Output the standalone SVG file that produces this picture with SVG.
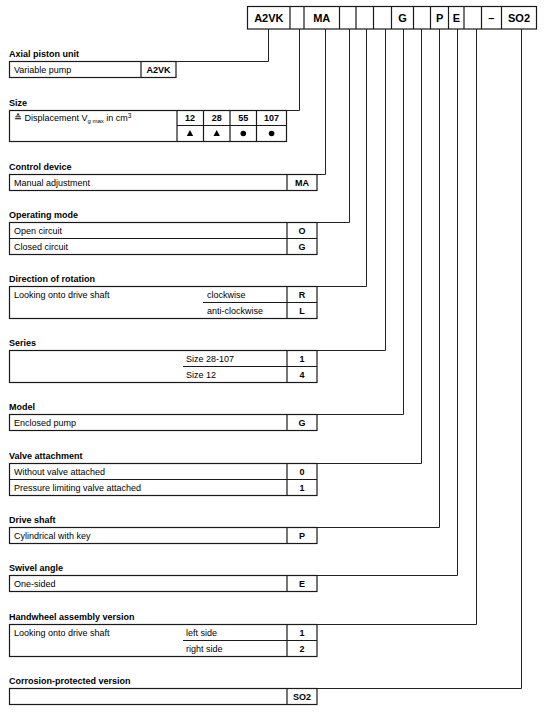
<svg xmlns="http://www.w3.org/2000/svg" width="546" height="712" viewBox="0 0 546 712">
<style>
text{font-family:"Liberation Sans",Arial,"DejaVu Sans",sans-serif;fill:#000}
.h{font-size:9px;font-weight:bold}
.t{font-size:9px}
.c{font-size:9px;font-weight:bold;text-anchor:middle}
.hd{font-size:11px;font-weight:bold;text-anchor:middle}
.box{fill:#fff;stroke:#1a1a1a;stroke-width:1.2}
.ln{fill:none;stroke:#1a1a1a;stroke-width:1.2}
.con{fill:none;stroke:#222;stroke-width:1}
.sym{fill:#000;stroke:none}
</style>
<rect width="546" height="712" fill="#fff"/>
<g id="connectors">
<path class="con" d="M268.5 28.5V61.5H176"/>
<path class="con" d="M299.5 28.5V110.5H287"/>
<path class="con" d="M325.5 28.5V174.5H317"/>
<path class="con" d="M349.5 28.5V222.5H317"/>
<path class="con" d="M366.5 28.5V286.5H317"/>
<path class="con" d="M385.5 28.5V350.5H317"/>
<path class="con" d="M403.5 28.5V414.5H317"/>
<path class="con" d="M421.5 28.5V463.5H317"/>
<path class="con" d="M439.5 28.5V527.5H317"/>
<path class="con" d="M457.5 28.5V575.5H317"/>
<path class="con" d="M476.5 28.5V624.5H317"/>
<path class="con" d="M521.5 28.5V688.5H317"/>
</g>
<g id="header">
<rect class="box" x="247.5" y="6.5" width="289" height="22.5"/>
<path class="ln" d="M290 6.5V29M304 6.5V29M339.5 6.5V29M356 6.5V29M373.5 6.5V29M391.5 6.5V29M413.5 6.5V29M430.5 6.5V29M448.5 6.5V29M464 6.5V29M481.5 6.5V29M501.5 6.5V29"/>
<text class="hd" x="268.8" y="21.8">A2VK</text>
<text class="hd" x="321.7" y="21.8">MA</text>
<text class="hd" x="402.5" y="21.8">G</text>
<text class="hd" x="439.6" y="21.8">P</text>
<text class="hd" x="456.3" y="21.8">E</text>
<text class="hd" x="491.4" y="21.8">–</text>
<text class="hd" x="519" y="21.8">SO2</text>
</g>
<g id="axial">
<text class="h" x="9" y="57">Axial piston unit</text>
<rect class="box" x="9.5" y="61.5" width="166.5" height="16"/>
<path class="ln" d="M141 61.5V77.5"/>
<text class="t" x="14" y="72.5">Variable pump</text>
<text class="c" x="158.5" y="72.5">A2VK</text>
</g>
<g id="size">
<text class="h" x="9" y="105.5">Size</text>
<rect class="box" x="9.5" y="110.5" width="277" height="31"/>
<path class="ln" d="M177 110.5V141.5M203.5 110.5V141.5M230 110.5V141.5M256.5 110.5V141.5M177 125.5H286.5"/>
<text class="t" x="14" y="121"><tspan font-family="'DejaVu Sans',sans-serif" font-size="9.5">≙</tspan> Displacement V<tspan font-size="6" dy="1.5">g max</tspan><tspan dy="-1.5"> in cm</tspan><tspan font-size="6.5" dy="-3">3</tspan></text>
<text class="c" x="190" y="121">12</text>
<text class="c" x="216.7" y="121">28</text>
<text class="c" x="243.3" y="121">55</text>
<text class="c" x="271.6" y="121">107</text>
<polygon class="sym" points="190,130 186.8,136 193.2,136"/>
<polygon class="sym" points="216.7,130 213.5,136 219.9,136"/>
<circle class="sym" cx="243.3" cy="133.5" r="2.8"/>
<circle class="sym" cx="271.6" cy="133.5" r="2.8"/>
</g>
<g id="control">
<text class="h" x="9" y="169.5">Control device</text>
<rect class="box" x="9.5" y="174.5" width="307.5" height="16"/>
<path class="ln" d="M287 174.5V190.5"/>
<text class="t" x="14" y="185.5">Manual adjustment</text>
<text class="c" x="302" y="185.5">MA</text>
</g>
<g id="operating">
<text class="h" x="9" y="217.5">Operating mode</text>
<rect class="box" x="9.5" y="222.5" width="307.5" height="32"/>
<path class="ln" d="M287 222.5V254.5M9.5 238.5H317"/>
<text class="t" x="14" y="233.5">Open circuit</text>
<text class="c" x="302" y="233.5">O</text>
<text class="t" x="14" y="249.5">Closed circuit</text>
<text class="c" x="302" y="249.5">G</text>
</g>
<g id="direction">
<text class="h" x="9" y="281.5">Direction of rotation</text>
<rect class="box" x="9.5" y="286.5" width="307.5" height="32"/>
<path class="ln" d="M287 286.5V318.5M203 302.5H317"/>
<text class="t" x="14" y="297.5">Looking onto drive shaft</text>
<text class="t" x="207" y="297.5">clockwise</text>
<text class="c" x="302" y="297.5">R</text>
<text class="t" x="207" y="313.5">anti-clockwise</text>
<text class="c" x="302" y="313.5">L</text>
</g>
<g id="series">
<text class="h" x="9" y="345.5">Series</text>
<rect class="box" x="9.5" y="350.5" width="307.5" height="32"/>
<path class="ln" d="M287 350.5V382.5M183 366.5H317"/>
<text class="t" x="186" y="361.5">Size 28-107</text>
<text class="c" x="302" y="361.5">1</text>
<text class="t" x="186" y="377.5">Size 12</text>
<text class="c" x="302" y="377.5">4</text>
</g>
<g id="model">
<text class="h" x="9" y="409.5">Model</text>
<rect class="box" x="9.5" y="414.5" width="307.5" height="16"/>
<path class="ln" d="M287 414.5V430.5"/>
<text class="t" x="14" y="425.5">Enclosed pump</text>
<text class="c" x="302" y="425.5">G</text>
</g>
<g id="valve">
<text class="h" x="9" y="458.5">Valve attachment</text>
<rect class="box" x="9.5" y="463.5" width="307.5" height="32"/>
<path class="ln" d="M287 463.5V495.5M9.5 479.5H317"/>
<text class="t" x="14" y="474.5">Without valve attached</text>
<text class="c" x="302" y="474.5">0</text>
<text class="t" x="14" y="490.5">Pressure limiting valve attached</text>
<text class="c" x="302" y="490.5">1</text>
</g>
<g id="driveshaft">
<text class="h" x="9" y="522.5">Drive shaft</text>
<rect class="box" x="9.5" y="527.5" width="307.5" height="16"/>
<path class="ln" d="M287 527.5V543.5"/>
<text class="t" x="14" y="538.5">Cylindrical with key</text>
<text class="c" x="302" y="538.5">P</text>
</g>
<g id="swivel">
<text class="h" x="9" y="570.5">Swivel angle</text>
<rect class="box" x="9.5" y="575.5" width="307.5" height="16"/>
<path class="ln" d="M287 575.5V591.5"/>
<text class="t" x="14" y="586.5">One-sided</text>
<text class="c" x="302" y="586.5">E</text>
</g>
<g id="handwheel">
<text class="h" x="9" y="619.5">Handwheel assembly version</text>
<rect class="box" x="9.5" y="624.5" width="307.5" height="32"/>
<path class="ln" d="M287 624.5V656.5M183 640.5H317"/>
<text class="t" x="14" y="635.5">Looking onto drive shaft</text>
<text class="t" x="186" y="635.5">left side</text>
<text class="c" x="302" y="635.5">1</text>
<text class="t" x="186" y="651.5">right side</text>
<text class="c" x="302" y="651.5">2</text>
</g>
<g id="corrosion">
<text class="h" x="9" y="683.5">Corrosion-protected version</text>
<rect class="box" x="9.5" y="688.5" width="307.5" height="16"/>
<path class="ln" d="M287 688.5V704.5"/>
<text class="c" x="302" y="699.5">SO2</text>
</g>
</svg>
